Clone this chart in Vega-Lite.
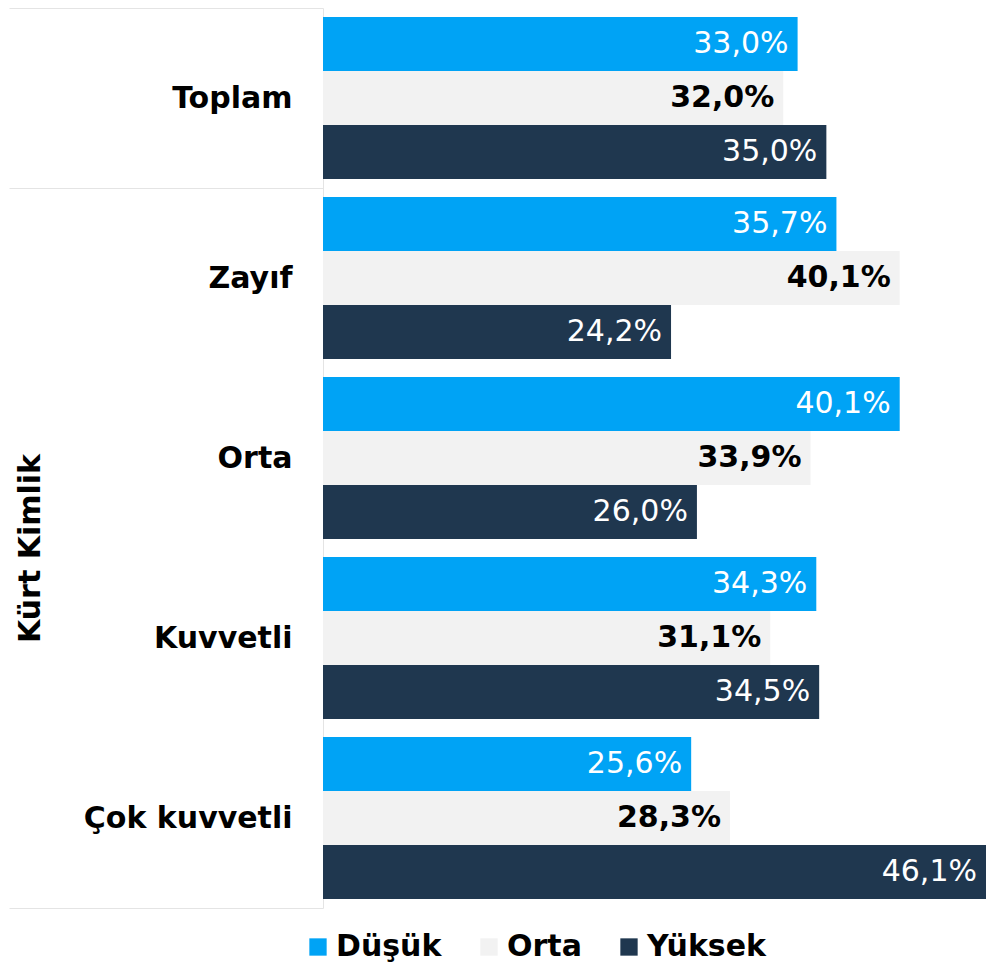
{
  "$schema": "https://vega.github.io/schema/vega-lite/v6.json",
  "width": 663,
  "height": 900,
  "autosize": {"type": "none"},
  "padding": {"left": 323, "top": 8, "right": 0, "bottom": 61},
  "config": {
    "locale": {"number": {"decimal": ",", "thousands": ".", "grouping": [3], "currency": ["", " TL"]}},
    "view": {"stroke": null},
    "font": "DejaVu Sans"
  },
  "data": {
    "values": [
      {"grup": "Toplam", "seviye": "Düşük", "oran": 0.330},
      {"grup": "Toplam", "seviye": "Orta", "oran": 0.320},
      {"grup": "Toplam", "seviye": "Yüksek", "oran": 0.350},
      {"grup": "Zayıf", "seviye": "Düşük", "oran": 0.357},
      {"grup": "Zayıf", "seviye": "Orta", "oran": 0.401},
      {"grup": "Zayıf", "seviye": "Yüksek", "oran": 0.242},
      {"grup": "Orta", "seviye": "Düşük", "oran": 0.401},
      {"grup": "Orta", "seviye": "Orta", "oran": 0.339},
      {"grup": "Orta", "seviye": "Yüksek", "oran": 0.260},
      {"grup": "Kuvvetli", "seviye": "Düşük", "oran": 0.343},
      {"grup": "Kuvvetli", "seviye": "Orta", "oran": 0.311},
      {"grup": "Kuvvetli", "seviye": "Yüksek", "oran": 0.345},
      {"grup": "Çok kuvvetli", "seviye": "Düşük", "oran": 0.256},
      {"grup": "Çok kuvvetli", "seviye": "Orta", "oran": 0.283},
      {"grup": "Çok kuvvetli", "seviye": "Yüksek", "oran": 0.461}
    ]
  },
  "encoding": {
    "y": {
      "field": "grup",
      "type": "nominal",
      "sort": ["Toplam", "Zayıf", "Orta", "Kuvvetli", "Çok kuvvetli"],
      "scale": {"paddingInner": 0, "paddingOuter": 0},
      "axis": {
        "title": "Kürt Kimlik",
        "titleFontSize": 30,
        "titleFontWeight": "bold",
        "titleColor": "#000000",
        "titleAngle": -90,
        "titleAlign": "center",
        "titleBaseline": "middle",
        "titleX": -293,
        "titleY": 540,
        "labelFontSize": 30,
        "labelFontWeight": "bold",
        "labelColor": "#000000",
        "labelLimit": 0,
        "labelPadding": -283,
        "tickBand": "extent",
        "tickSize": 314,
        "tickColor": {
          "condition": {"test": "datum.value === 'Zayıf' || datum.value === 'Orta' || datum.value === 'Kuvvetli'", "value": "transparent"},
          "value": "#e4e4e4"
        },
        "domainColor": "#e4e4e4"
      }
    },
    "yOffset": {
      "field": "seviye",
      "sort": ["Düşük", "Orta", "Yüksek"],
      "scale": {"paddingInner": 0, "paddingOuter": 0.1667}
    },
    "x": {
      "field": "oran",
      "type": "quantitative",
      "scale": {"domain": [0, 0.461], "nice": false},
      "axis": null
    }
  },
  "layer": [
    {
      "mark": {"type": "bar"},
      "encoding": {
        "color": {
          "field": "seviye",
          "type": "nominal",
          "sort": ["Düşük", "Orta", "Yüksek"],
          "scale": {"domain": ["Düşük", "Orta", "Yüksek"], "range": ["#00A3F5", "#F2F2F2", "#1F374F"]},
          "legend": {
            "title": null,
            "orient": "none",
            "direction": "horizontal",
            "legendX": -20,
            "legendY": 924,
            "symbolType": "square",
            "symbolSize": 300,
            "symbolStrokeWidth": 0,
            "labelFontSize": 30,
            "labelFontWeight": "bold",
            "labelColor": "#000000",
            "labelOffset": 3,
            "columnPadding": 32
          }
        }
      }
    },
    {
      "transform": [{"filter": "datum.seviye === 'Orta'"}],
      "mark": {"type": "text", "align": "right", "baseline": "middle", "dx": -9, "fontSize": 30, "fontWeight": "bold", "color": "#000000"},
      "encoding": {"text": {"field": "oran", "type": "quantitative", "format": ".1%"}}
    },
    {
      "transform": [{"filter": "datum.seviye !== 'Orta'"}],
      "mark": {"type": "text", "align": "right", "baseline": "middle", "dx": -9, "fontSize": 30, "fontWeight": "normal", "color": "#ffffff"},
      "encoding": {"text": {"field": "oran", "type": "quantitative", "format": ".1%"}}
    }
  ]
}
